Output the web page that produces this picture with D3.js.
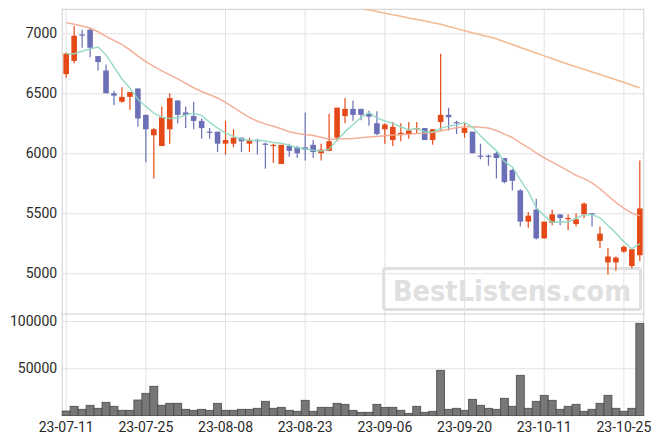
<!DOCTYPE html>
<html><head><meta charset="utf-8">
<script src="https://cdn.jsdelivr.net/npm/d3@7"></script>
<style>
body{margin:0;background:#fff;}
svg{display:block;font-family:Roboto,"Liberation Sans",sans-serif;}
</style></head><body>
<svg id="c" width="663" height="444"></svg>
<script>
const dates = ["23-07-11","23-07-12","23-07-13","23-07-14","23-07-17","23-07-18","23-07-19","23-07-20","23-07-21","23-07-24",
"23-07-25","23-07-26","23-07-27","23-07-28","23-07-31","23-08-01","23-08-02","23-08-03","23-08-04","23-08-07",
"23-08-08","23-08-09","23-08-10","23-08-11","23-08-14","23-08-16","23-08-17","23-08-18","23-08-21","23-08-22",
"23-08-23","23-08-24","23-08-25","23-08-28","23-08-29","23-08-30","23-08-31","23-09-01","23-09-04","23-09-05",
"23-09-06","23-09-07","23-09-08","23-09-11","23-09-12","23-09-13","23-09-14","23-09-15","23-09-18","23-09-19",
"23-09-20","23-09-21","23-09-22","23-09-25","23-09-26","23-09-27","23-10-04","23-10-05","23-10-06","23-10-10",
"23-10-11","23-10-12","23-10-13","23-10-16","23-10-17","23-10-18","23-10-19","23-10-20","23-10-23","23-10-24",
"23-10-25","23-10-26","23-10-27"];
const opens  = [6660,6770,6990,7030,6810,6690,6500,6430,6470,6540,6320,6150,6060,6200,6440,6340,6310,6270,6180,6180,
6080,6080,6130,6080,6110,6080,6060,5910,6060,6050,6050,6070,6000,6020,6130,6310,6370,6370,6330,6250,
6200,6110,6160,6160,6200,6210,6110,6260,6320,6260,6170,6180,5980,5980,6000,5960,5860,5690,5430,5530,
5290,5420,5490,5450,5410,5490,5500,5270,5090,5090,5180,5060,5150];
const highs  = [6840,7060,7030,7040,6810,6740,6520,6550,6510,6540,6320,6210,6390,6500,6440,6390,6430,6290,6210,6180,
6270,6200,6130,6130,6120,6090,6080,6070,6080,6060,6340,6110,6080,6330,6380,6460,6440,6370,6355,6350,
6250,6260,6250,6260,6260,6210,6200,6830,6380,6270,6250,6180,6080,5990,6010,5960,5870,5700,5510,5620,
5430,5530,5490,5490,5500,5590,5500,5390,5210,5140,5230,5200,5940];
const lows   = [6630,6750,6880,6800,6690,6500,6400,6420,6360,6220,5925,5790,6060,6080,6250,6210,6200,6120,6120,6010,
5990,6050,6010,6010,5990,5870,5920,5910,5970,5960,5940,5960,5940,6020,6100,6250,6270,6275,6230,6150,
6080,6060,6100,6120,6160,6110,6070,6190,6190,6160,6130,6000,5950,5895,5790,5750,5690,5390,5380,5280,
5290,5400,5400,5360,5390,5460,5390,5210,4990,5020,5170,5040,5100];
const closes = [6830,6980,6980,6880,6760,6500,6480,6470,6510,6290,6200,6200,6300,6460,6320,6320,6270,6210,6170,6080,
6110,6130,6100,6110,6100,6070,6070,6070,6020,6000,6030,6010,6030,6100,6380,6370,6320,6320,6305,6160,
6240,6220,6170,6190,6210,6110,6200,6320,6300,6250,6210,6000,5970,5970,5960,5760,5770,5430,5480,5290,
5430,5490,5460,5460,5450,5580,5490,5330,5140,5130,5220,5200,5540];
const volumes = [4860,9830,6660,10890,7720,14060,9830,5600,5600,16490,23570,30970,10890,13000,13000,6660,5600,6660,5600,13000,
5600,5600,6660,6660,7720,15110,7720,8770,5600,4550,16170,4550,8770,8770,13000,11940,5600,3490,3490,11940,
8770,8770,5600,2430,9830,3490,4550,47880,6660,7720,5600,17230,10890,7720,6660,18290,9830,42600,7720,15110,
21450,16170,6660,9830,11940,4550,6660,13000,21450,7720,4550,7720,97570];
// moving-average values before enough closes are on the chart
const ma5Head  = [6830,6830,6850,6870];
const ma20Head = [7089,7075,7061,7044,7013,6975,6940,6905,6862,6810,6763,6724,6686,6653,6620,6583,6546,6515,6488];
// long moving average, visible from index 37 on
const maLongStart = 37;
const maLong = [7208,7195,7181,7168,7155,7142,7128,7115,7102,7088,7075,7057,7039,7021,7004,6988,6971,6955,6930,6906,
6882,6858,6836,6812,6788,6765,6742,6720,6700,6678,6656,6635,6613,6592,6567,6545];
const priceTicks = [5000,5500,6000,6500,7000];
const volTicks = [50000,100000];
const dateTicks = dates.filter((d,i)=>i%10===0);

const L=62.2, R=643.8, T=9.3, M=314, B=415.6;
const svg = d3.select("#c");
const x = d3.scaleBand().domain(dates).range([L,R]).padding(0);
const step = x.step();
const cx = d => x(d)+step/2;
const y = d3.scaleLinear().domain([4660,7200]).range([M,T]);
const yv = d3.scaleLinear().domain([0,107400]).range([B,M]);

function rolling(n, head){
  return closes.map((c,i)=> i<n-1 ? head[i] : d3.mean(closes.slice(i-n+1,i+1)));
}
const ma5 = rolling(5, ma5Head);
const ma20 = rolling(20, ma20Head);

const gridC="#e2e2e2", borderC="#cfcfcf";

const gy = svg.append("g").attr("transform",`translate(${L},0)`)
  .call(d3.axisLeft(y).tickValues(priceTicks).tickSize(-(R-L)).tickPadding(5).tickFormat(d3.format("d")));
const gyv = svg.append("g").attr("transform",`translate(${L},0)`)
  .call(d3.axisLeft(yv).tickValues(volTicks).tickSize(-(R-L)).tickPadding(5).tickFormat(d3.format("d")));
const gx = svg.append("g").attr("transform",`translate(0,${B})`)
  .call(d3.axisBottom(x).tickValues(dateTicks).tickSize(-(B-T)).tickPadding(6));
[gy,gyv,gx].forEach(g=>{
  g.select(".domain").remove();
  g.selectAll(".tick line").attr("stroke",gridC).attr("stroke-width",1);
  g.selectAll(".tick text").attr("fill","#2a2a2a").attr("font-size",14).attr("font-family","Roboto, sans-serif");
});

const bd = svg.append("g").attr("stroke",borderC).attr("stroke-width",1).attr("fill","none");
bd.append("rect").attr("x",L).attr("y",T).attr("width",R-L).attr("height",B-T);
bd.append("line").attr("x1",L).attr("x2",R).attr("y1",M).attr("y2",M);

// watermark
const wm = svg.append("g");
wm.append("rect").attr("x",383.5).attr("y",268.5).attr("width",257).attr("height",41).attr("rx",2)
  .attr("fill","none").attr("stroke","#e0e0e0").attr("stroke-width",3);
wm.append("text").attr("x",512).attr("y",301).attr("text-anchor","middle")
  .attr("font-family","'DejaVu Sans', Roboto, sans-serif").attr("font-weight","bold").attr("font-size",28)
  .attr("fill","#e0e0e0").attr("textLength",238).attr("lengthAdjust","spacingAndGlyphs").text("BestListens.com");

svg.append("clipPath").attr("id","pc").append("rect").attr("x",L).attr("y",T).attr("width",R-L).attr("height",M-T);

// volume bars
svg.append("g").selectAll("rect").data(dates).join("rect")
  .attr("x",d=>x(d)).attr("width",step)
  .attr("y",(d,i)=>yv(volumes[i])).attr("height",(d,i)=>B-yv(volumes[i]))
  .attr("fill","#777").attr("stroke","#4a4a4a").attr("stroke-width",0.8);

// candles
const up="#e54a18", dn="#6c70b6";
const cg = svg.append("g").attr("clip-path","url(#pc)");
const idx = d3.range(dates.length);
cg.selectAll("line.w").data(idx).join("line").attr("class","w")
  .attr("x1",i=>cx(dates[i])).attr("x2",i=>cx(dates[i]))
  .attr("y1",i=>y(highs[i])).attr("y2",i=>y(lows[i]))
  .attr("stroke",i=>closes[i]>=opens[i]?up:dn).attr("stroke-width",1.2);
const bw = 5.6;
cg.selectAll("rect.b").data(idx).join("rect").attr("class","b")
  .attr("x",i=>cx(dates[i])-bw/2).attr("width",bw)
  .attr("y",i=>y(Math.max(opens[i],closes[i])))
  .attr("height",i=>Math.max(1.2,Math.abs(y(opens[i])-y(closes[i]))))
  .attr("fill",i=>closes[i]>=opens[i]?up:dn);

// moving averages
const lg = svg.append("g").attr("clip-path","url(#pc)").attr("fill","none").attr("stroke-width",1.5).attr("opacity",0.9);
const line = d3.line().x(p=>cx(p[0])).y(p=>y(p[1]));
lg.append("path").attr("d",line(dates.map((d,i)=>[d,ma20[i]]))).attr("stroke","#f2a88d");
lg.append("path").attr("d",line(maLong.map((v,k)=>[dates[maLongStart+k],v]))).attr("stroke","#f0b385");
lg.append("path").attr("d",line(dates.map((d,i)=>[d,ma5[i]]))).attr("stroke","#8fd9c2");
</script>
</body></html>
